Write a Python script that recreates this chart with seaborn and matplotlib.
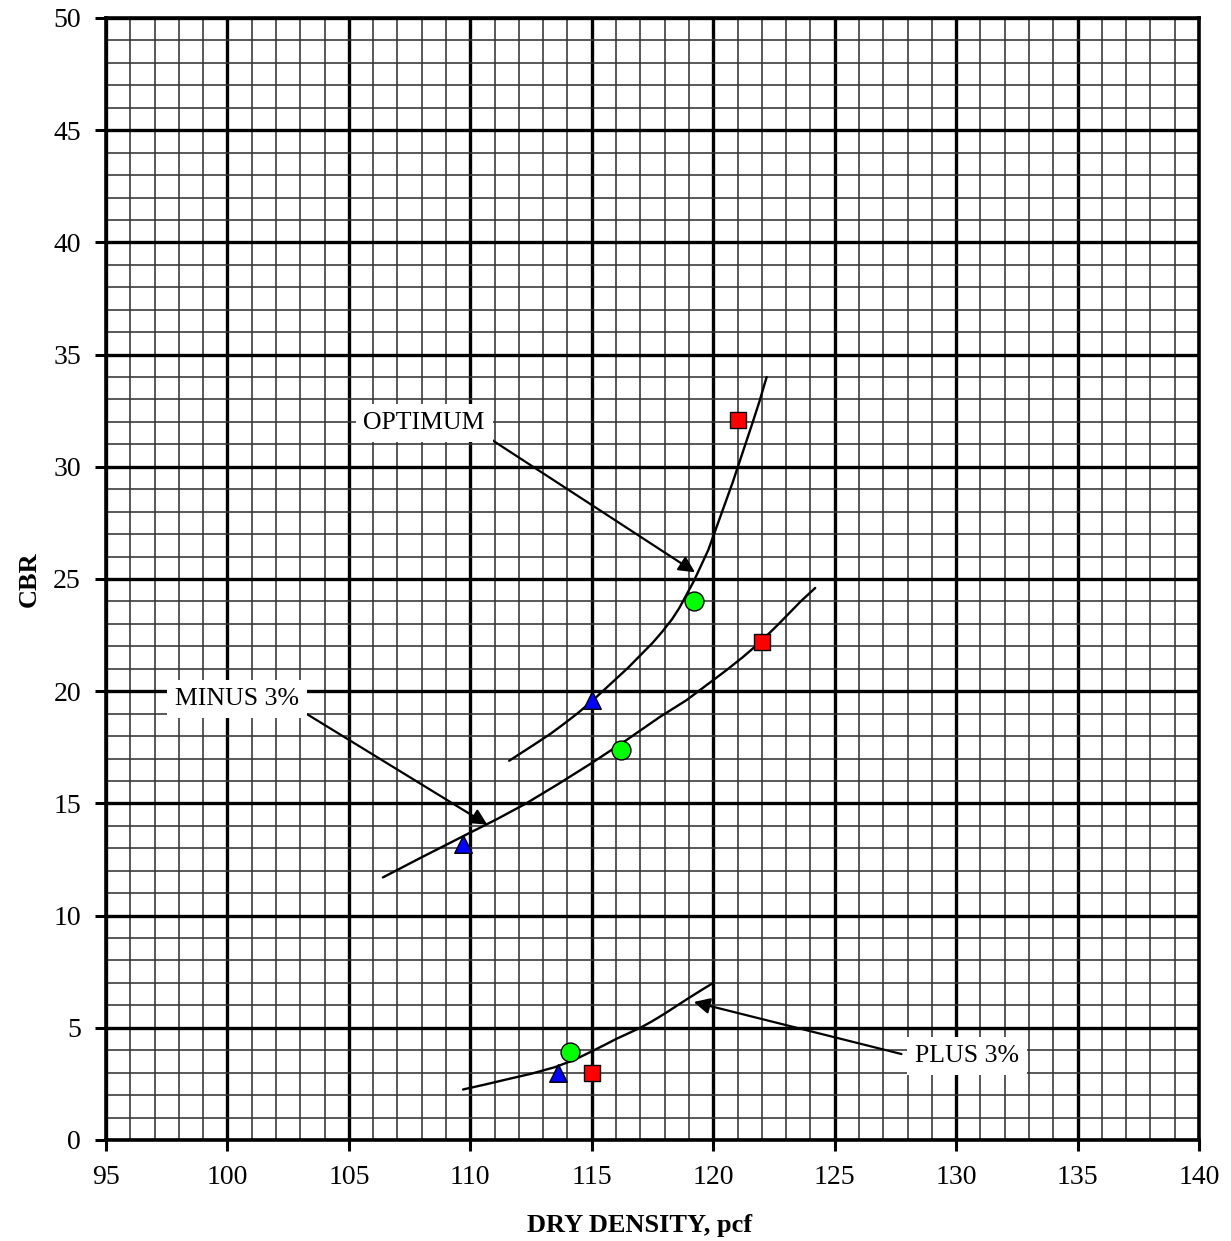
import numpy as np
import pandas as pd
import matplotlib
matplotlib.use("Agg")
import matplotlib.pyplot as plt
from matplotlib.ticker import MultipleLocator
import seaborn as sns

# Test points: dry density (pcf) and CBR for three compactive efforts
low_effort_density = [109.7, 115.0, 113.6]
low_effort_cbr = [13.2, 19.6, 3.0]
mid_effort_density = [116.2, 119.2, 114.1]
mid_effort_cbr = [17.4, 24.0, 3.9]
high_effort_density = [121.0, 122.0, 115.0]
high_effort_cbr = [32.1, 22.2, 3.0]

# Hand-fitted trend curves for each moisture condition
optimum_density = [111.6, 112.1, 112.6, 113.3, 113.8, 114.4, 115.0, 115.5,
                   116.0, 116.5, 117.0, 117.5, 117.9, 118.3, 118.6, 118.9,
                   119.2, 119.5, 119.8, 120.1, 120.5, 120.8, 121.2, 121.6,
                   121.9, 122.2]
optimum_cbr = [16.9, 17.25, 17.6, 18.1, 18.5, 19.0, 19.55, 20.05,
               20.55, 21.05, 21.6, 22.15, 22.65, 23.2, 23.7, 24.3,
               24.9, 25.6, 26.3, 27.2, 28.4, 29.3, 30.6, 31.9,
               32.9, 34.0]
minus3_density = [106.4, 107.2, 108.0, 109.0, 110.0, 111.1, 112.3, 113.6,
                  115.0, 116.4, 117.8, 118.9, 119.7, 120.5, 121.2, 121.9,
                  122.7, 123.6, 124.2]
minus3_cbr = [11.7, 12.15, 12.6, 13.15, 13.7, 14.3, 15.0, 15.85,
              16.8, 17.8, 18.85, 19.6, 20.25, 20.9, 21.5, 22.15,
              23.0, 24.0, 24.6]
plus3_density = [109.7, 110.6, 111.5, 112.5, 113.5, 114.3, 115.0, 115.5,
                 116.0, 116.5, 117.0, 117.5, 118.0, 118.5, 119.0, 119.5,
                 120.0]
plus3_cbr = [2.25, 2.47, 2.7, 2.95, 3.25, 3.58, 3.95, 4.22,
             4.5, 4.75, 5.0, 5.3, 5.63, 5.98, 6.33, 6.67, 7.0]

curve_labels = ["OPTIMUM", "MINUS 3%", "PLUS 3%"]
label_xy = [(108.1, 31.95), (100.4, 19.65), (130.45, 3.74)]
arrow_tail = [(110.77, 31.28), (103.27, 18.98), (127.75, 3.83)]
arrow_tip = [(119.25, 25.3), (110.7, 14.05), (119.2, 6.15)]

x_ticks = [95, 100, 105, 110, 115, 120, 125, 130, 135, 140]
y_ticks = [0, 5, 10, 15, 20, 25, 30, 35, 40, 45, 50]

sns.set_theme(style="white")
plt.rcParams["font.family"] = ["Liberation Serif", "DejaVu Serif"]
plt.rcParams.update({"text.color": "black", "axes.labelcolor": "black",
                     "xtick.color": "black", "ytick.color": "black"})

fig = plt.figure(figsize=(12.31, 12.41), dpi=100)
ax = fig.add_axes([0.0861, 0.0814, 0.8879, 0.9041])

ax.set_xlim(95, 140)
ax.set_ylim(0, 50)
ax.xaxis.set_major_locator(MultipleLocator(5))
ax.yaxis.set_major_locator(MultipleLocator(5))
ax.xaxis.set_minor_locator(MultipleLocator(1))
ax.yaxis.set_minor_locator(MultipleLocator(1))
ax.set_xticks(x_ticks)
ax.set_yticks(y_ticks)
ax.grid(which="minor", color="#333333", linewidth=1.15)
ax.grid(which="major", color="black", linewidth=2.4)
ax.set_axisbelow(True)

for sp in ax.spines.values():
    sp.set_visible(True)
    sp.set_color("black")
    sp.set_linewidth(2.6)

ax.tick_params(which="major", direction="out", length=8, width=2.2,
               color="black", labelcolor="black", labelsize=20, pad=10,
               left=True, bottom=True)
ax.tick_params(which="minor", length=0)

curves = [(optimum_density, optimum_cbr), (minus3_density, minus3_cbr),
          (plus3_density, plus3_cbr)]
for cx, cy in curves:
    sns.lineplot(x=cx, y=cy, ax=ax, color="black", linewidth=1.7,
                 sort=False, estimator=None, zorder=3)

point_sets = [
    (low_effort_density, low_effort_cbr, "^", "#0000FF", 160),
    (mid_effort_density, mid_effort_cbr, "o", "#00FF00", 185),
    (high_effort_density, high_effort_cbr, "s", "#FF0000", 125),
]
for px, py, mk, col, sz in point_sets:
    sns.scatterplot(x=px, y=py, ax=ax, marker=mk, color=col, s=sz,
                    edgecolor="black", linewidth=1.0, zorder=5)

for lab, pos, tail, tip in zip(curve_labels, label_xy, arrow_tail, arrow_tip):
    ax.annotate("", xy=tip, xytext=tail,
                arrowprops=dict(arrowstyle="-|>", color="black", lw=1.6,
                                mutation_scale=24, shrinkA=0, shrinkB=0),
                zorder=4)
    ax.text(pos[0], pos[1], lab, fontsize=18.5, ha="center", va="center",
            color="black", zorder=6,
            bbox=dict(boxstyle="square,pad=0.3", facecolor="white",
                      edgecolor="none"))

ax.set_xlabel("DRY DENSITY, pcf", fontsize=19, fontweight="bold",
              color="black")
ax.set_ylabel("CBR", fontsize=19, fontweight="bold", color="black")
ax.xaxis.set_label_coords(0.4886, -0.066)
ax.xaxis.label.set_va("top")
ax.yaxis.set_label_coords(-0.060, 0.5)

fig.savefig("out.png", dpi=100, facecolor="white")
